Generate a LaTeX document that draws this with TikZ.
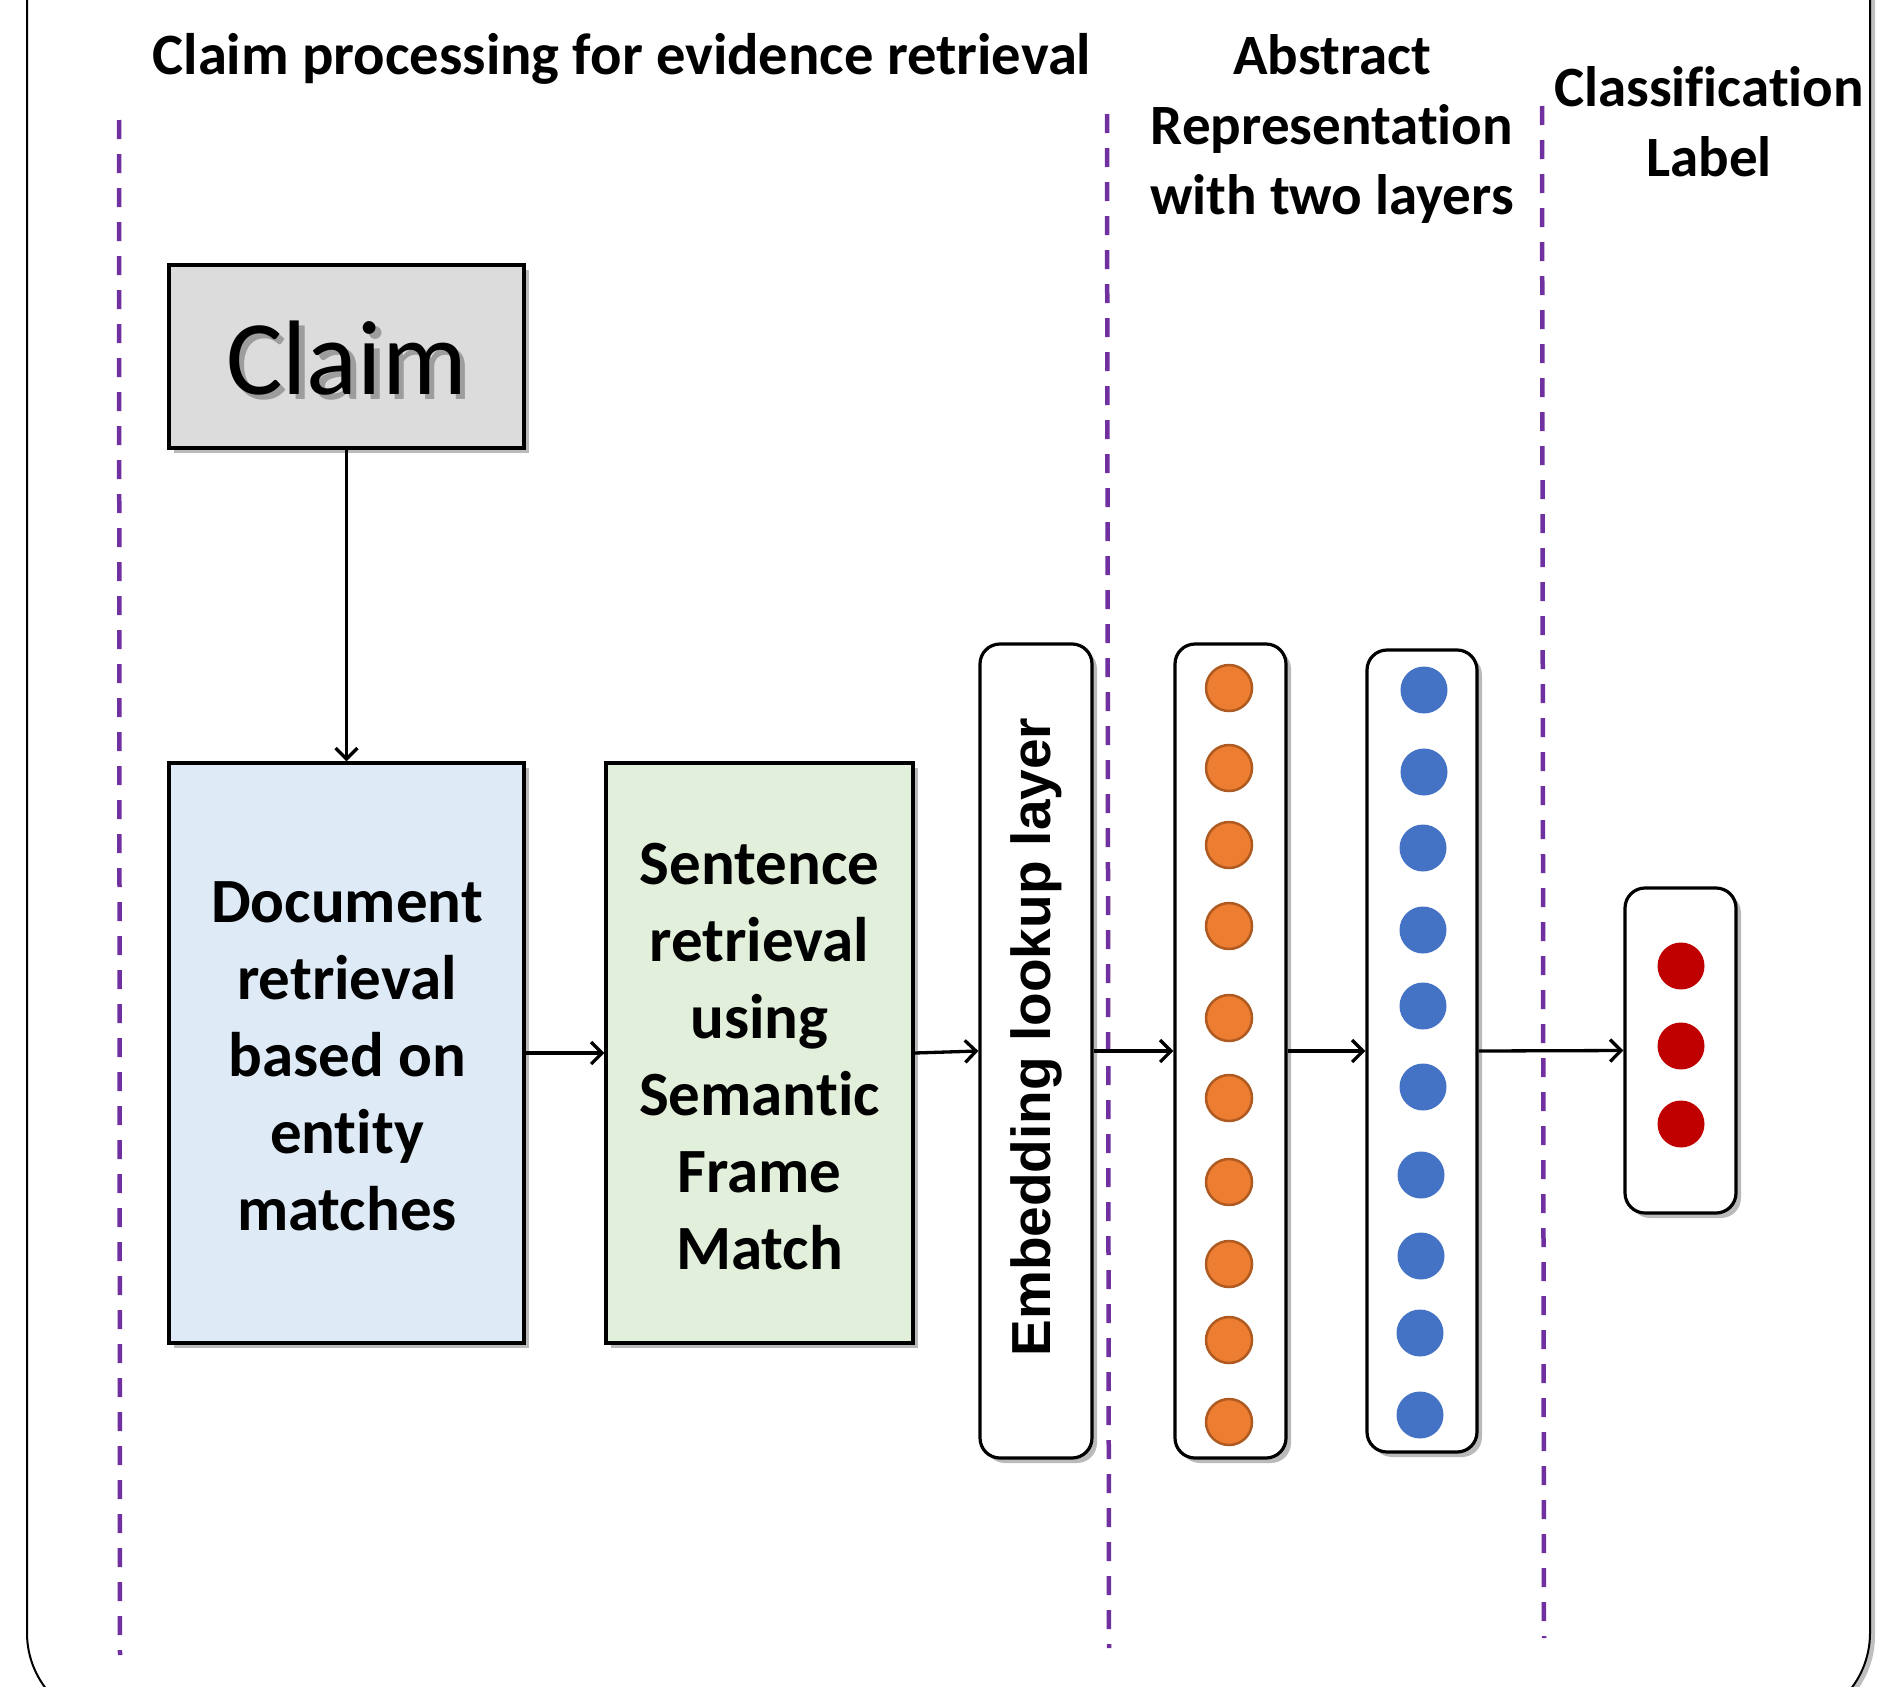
\documentclass[tikz,border=0pt]{standalone}
\usepackage{fontspec}
\setmainfont[Ligatures=NoCommon]{Carlito}
\newfontfamily\arialfont{Liberation Sans}
\usetikzlibrary{arrows.meta,shadows}
\definecolor{dashpurple}{HTML}{7030A0}
\definecolor{claimgray}{HTML}{DCDCDC}
\definecolor{docblue}{HTML}{DEEBF7}
\definecolor{sentgreen}{HTML}{E2EFDA}
\definecolor{orangefill}{HTML}{ED7D31}
\definecolor{orangeline}{HTML}{AE5A21}
\definecolor{bluefill}{HTML}{4472C4}
\definecolor{redfill}{HTML}{C00000}
\tikzset{
  boxshadow/.style={drop shadow={shadow xshift=5pt,shadow yshift=-5pt,opacity=0.45,fill=black!60}},
  plainbox/.style={draw=black,line width=3.2pt,inner sep=0pt,boxshadow},
  layerbox/.style={draw=black,line width=3.2pt,fill=white,rounded corners=20pt,inner sep=0pt,boxshadow},
  bodytext/.style={font=\fontsize{63}{77}\selectfont\bfseries,align=center},
  headtext/.style={font=\fontsize{57}{70}\selectfont\bfseries,align=center},
  sepline/.style={draw=dashpurple,line width=4.5pt,dash pattern=on 19pt off 15pt},
  flow/.style={draw=black,line width=3.3pt,-{Straight Barb[length=11pt,width=22pt,line width=3.3pt]}},
  orangedot/.style={circle,fill=orangefill,draw=orangeline,line width=2.5pt,minimum size=46pt,inner sep=0pt},
  bluedot/.style={circle,fill=bluefill,minimum size=47pt,inner sep=0pt},
  reddot/.style={circle,fill=redfill,minimum size=47pt,inner sep=0pt},
}
\begin{document}
\begin{tikzpicture}[x=1pt,y=-1pt]
\useasboundingbox (0,0) rectangle (1881,1686);
% outer frame
\begin{scope}
\clip (0,0) rectangle (1881,1686);
\draw[line width=2pt,rounded corners=91pt,fill=white,drop shadow={shadow xshift=5pt,shadow yshift=-3pt,opacity=0.5}] (27,-200) rectangle (1870,1724);
\end{scope}
% separators
\coordinate (s1t) at (119,120); \coordinate (s1b) at (120,1655);
\coordinate (s2t) at (1107,114); \coordinate (s2b) at (1109,1648);
\coordinate (s3t) at (1542,106); \coordinate (s3b) at (1544,1638);
\draw[sepline] (s1t) -- (s1b);
\draw[sepline] (s2t) -- (s2b);
\draw[sepline] (s3t) -- (s3b);
% headers
\node[headtext,font=\fontsize{58.6}{70}\selectfont\bfseries] (h1) at (622,59) {Claim processing for evidence retrieval};
\node[headtext] (h2) at (1332,128.5) {Abstract\\Representation\\with two layers};
\node[headtext] (h3) at (1709,122) {Classification\\Label};
% claim
\node[plainbox,fill=claimgray,minimum width=355pt,minimum height=183pt] (claim) at (346.5,356.5) {};
\node[font=\fontsize{106}{120}\selectfont,text=black!55,opacity=0.6] (claimsh) at (352,363) {Claim};
\node[font=\fontsize{106}{120}\selectfont] (claimtxt) at (346.5,358) {Claim};
% document
\node[plainbox,fill=docblue,minimum width=355pt,minimum height=580pt] (doc) at (346.5,1053) {};
\node[bodytext] (doctxt) at (347,1056) {Document\\retrieval\\based on\\entity\\matches};
% sentence
\node[plainbox,fill=sentgreen,minimum width=307pt,minimum height=580pt] (sent) at (759.5,1053) {};
\node[bodytext] (senttxt) at (759.5,1057) {Sentence\\retrieval\\using\\Semantic\\Frame\\Match};
% embedding
\node[layerbox,minimum width=112pt,minimum height=814pt] (emb) at (1036,1051) {};
\node[rotate=90,font=\fontsize{55}{66}\selectfont\arialfont\bfseries] (embtxt) at (1036,1037) {Embedding lookup layer};
% orange layer
\node[layerbox,minimum width=111pt,minimum height=814pt] (orange) at (1230.5,1051) {};
\foreach \y [count=\i] in {688,768,845,926,1018,1098,1182,1264,1340,1422}
  \node[orangedot] (o\i) at (1229,\y) {};
% blue layer
\node[layerbox,minimum width=110pt,minimum height=802pt] (blue) at (1422,1051) {};
\foreach \y/\x [count=\i] in {690/1424,772/1424,848/1423,930/1423,1006/1423,1087/1423,1175/1421,1256/1421,1333/1420,1415/1420}
  \node[bluedot] (b\i) at (\x,\y) {};
% red layer
\node[layerbox,minimum width=111pt,minimum height=325pt] (red) at (1680.5,1050.5) {};
\foreach \y [count=\i] in {966,1046,1124}
  \node[reddot] (r\i) at (1681,\y) {};
% connectors
\draw[flow] (claim.south) -- (doc.north);
\draw[flow] (doc.east) -- (sent.west);
\draw[flow] (sent.east) -- (emb.west);
\draw[flow] (emb.east) -- (orange.west);
\draw[flow] (orange.east) -- (blue.west);
\draw[flow] (blue.east) -- (red.west);
\end{tikzpicture}
\end{document}
